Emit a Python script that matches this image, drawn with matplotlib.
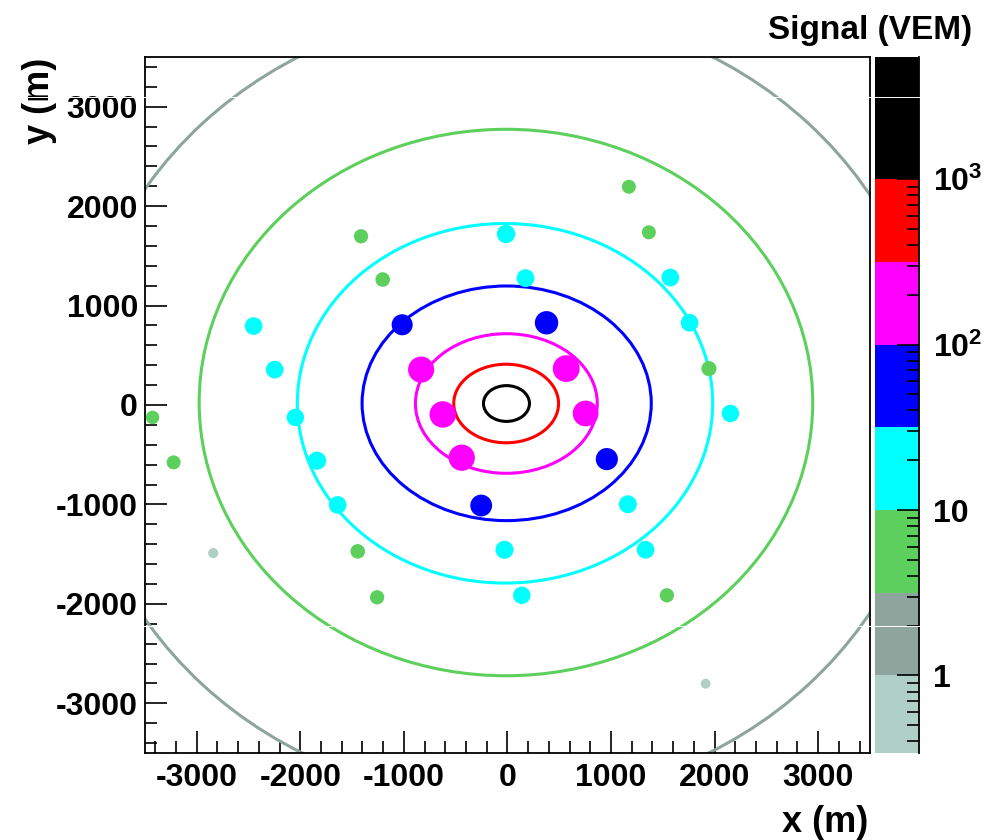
import numpy as np
import matplotlib
matplotlib.use('Agg')
import matplotlib.pyplot as plt
from matplotlib.colors import ListedColormap, BoundaryNorm
from matplotlib.patches import Ellipse
from matplotlib.lines import Line2D
from matplotlib.ticker import FixedLocator, FixedFormatter, MultipleLocator, LogLocator, NullFormatter

# ---------------- data ----------------
band_bounds = [0.34, 1, 3.16, 10, 31.6, 100, 316, 1000, 5480]
band_colors = ['#b0cfc6', '#8ea59e', '#5ccf5c', '#00ffff', '#0000ff',
               '#ff00ff', '#ff0000', '#000000']

station_x = [1172, 1365, -14, -1414, 174, -1205, 1572, -2451, -1017, 377,
             1758, -834, 567, -2248, 1945, -625, 754, -2048, 2152, -3427,
             -442, 959, -3224, -1839, -1640, -254, 1162, -29, -1446, -2841,
             1333, 138, -1259, 1539, 1913]
station_y = [2195, 1737, 1720, 1697, 1276, 1262, 1282, 794, 807, 827,
             827, 356, 366, 356, 366, -95, -85, -125, -85, -125,
             -530, -544, -577, -560, -1005, -1011, -998, -1456, -1472, -1489,
             -1456, -1914, -1934, -1914, -2803]
station_signal = [4.0, 4.0, 18, 4.5, 15, 5.0, 14, 14, 40, 80,
                  14, 180, 220, 14, 6.0, 200, 160, 13, 13, 3.3,
                  190, 55, 4.0, 16, 14, 50, 15, 16, 5.0, 0.6,
                  14, 13, 4.5, 4.5, 0.5]

contour_level = [1, 3.16, 10, 31.6, 100, 316, 1000]
contour_cx = [-20, -15, -24, -8, -11, -13, -10]
contour_cy = [10, 25, 17, 17, 15, 15, 15]
contour_rx = [4142, 2962, 2005, 1396, 878, 506, 222]
contour_ry = [3986, 2748, 1808, 1180, 702, 395, 180]

axis_ticks = [-3000, -2000, -1000, 0, 1000, 2000, 3000]
cb_ticks = [1, 10, 100, 1000]
cb_ticklabels = ['1', '10', r'$10^{2}$', r'$10^{3}$']

# ---------------- style ----------------
plt.rcParams['font.family'] = ['Liberation Sans', 'DejaVu Sans']
plt.rcParams['font.weight'] = 'bold'
plt.rcParams['axes.unicode_minus'] = False
plt.rcParams['mathtext.fontset'] = 'custom'
plt.rcParams['mathtext.rm'] = 'Liberation Sans:bold'
plt.rcParams['mathtext.it'] = 'Liberation Sans:bold'
plt.rcParams['mathtext.bf'] = 'Liberation Sans:bold'

W, H = 995, 840
fig = plt.figure(figsize=(W / 100, H / 100), dpi=100)

L, R, T, B = 145, 870, 57, 753
ax = fig.add_axes([L / W, 1 - B / H, (R - L) / W, (B - T) / H])

cmap = ListedColormap(band_colors)
norm = BoundaryNorm(band_bounds, cmap.N)

# contours
for lev, cx, cy, rx, ry in zip(contour_level, contour_cx, contour_cy, contour_rx, contour_ry):
    col = cmap(norm(lev * 1.001))
    e = Ellipse((cx, cy), 2 * rx, 2 * ry, fill=False, edgecolor=col, lw=2.2, zorder=2)
    ax.add_patch(e)

# stations
sig = np.array(station_signal)
d_px = 8.5 + 7.8 * np.log10(1 + sig)
sizes = (d_px * 0.72) ** 2
ax.scatter(station_x, station_y, c=sig, cmap=cmap, norm=norm, s=sizes,
           linewidths=0, zorder=3)

ax.set_xlim(-3500, 3500)
ax.set_ylim(-3500, 3500)
ax.set_xticks(axis_ticks)
ax.set_yticks(axis_ticks)
ax.xaxis.set_minor_locator(MultipleLocator(200))
ax.yaxis.set_minor_locator(MultipleLocator(200))
ax.tick_params(which='both', direction='in', top=False, right=False,
               width=1.2, labelsize=23)
ax.tick_params(which='major', length=16)
ax.tick_params(which='minor', length=8.5)
ax.tick_params(axis='x', pad=7)
ax.tick_params(axis='y', pad=5)
for lab in ax.get_xticklabels() + ax.get_yticklabels():
    lab.set_fontweight('bold')
for s in ax.spines.values():
    s.set_linewidth(1.3)

# colorbar
cb = fig.add_axes([875 / W, 1 - B / H, 44 / W, (B - T) / H])
cb.set_yscale('log')
cb.set_ylim(band_bounds[0], band_bounds[-1])
cb.set_xlim(0, 1)
for lo, hi, c in zip(band_bounds[:-1], band_bounds[1:], band_colors):
    cb.axhspan(lo, hi, color=c, lw=0)
for side in ['left', 'top', 'bottom']:
    cb.spines[side].set_visible(False)
cb.spines['right'].set_linewidth(1.3)
cb.set_xticks([])
cb.yaxis.set_label_position('right')
cb.yaxis.tick_right()
cb.yaxis.set_major_locator(FixedLocator(cb_ticks))
cb.yaxis.set_major_formatter(FixedFormatter(cb_ticklabels))
cb.yaxis.set_minor_locator(LogLocator(base=10, subs=np.arange(2, 10)))
cb.yaxis.set_minor_formatter(NullFormatter())
cb.tick_params(which='both', direction='in', left=False, right=True,
               width=1.2, labelsize=23, pad=10)
cb.tick_params(which='major', length=16)
cb.tick_params(which='minor', length=8.5)

# texts
fig.text(972 / W, 1 - 30 / H, 'Signal (VEM)', ha='right', va='center',
         fontsize=24, fontweight='bold')
fig.text(868 / W, 1 - 822 / H, 'x (m)', ha='right', va='center',
         fontsize=26, fontweight='bold')
fig.text(40 / W, 1 - 58 / H, 'y (m)', ha='center', va='top', rotation=90,
         fontsize=26, fontweight='bold')

# scan-line artefacts
for yy in [96.5, 625.5]:
    fig.add_artist(Line2D([0, 1], [1 - yy / H, 1 - yy / H], color='white',
                          lw=0.7, transform=fig.transFigure, zorder=10))

fig.savefig('out.png', dpi=100)
